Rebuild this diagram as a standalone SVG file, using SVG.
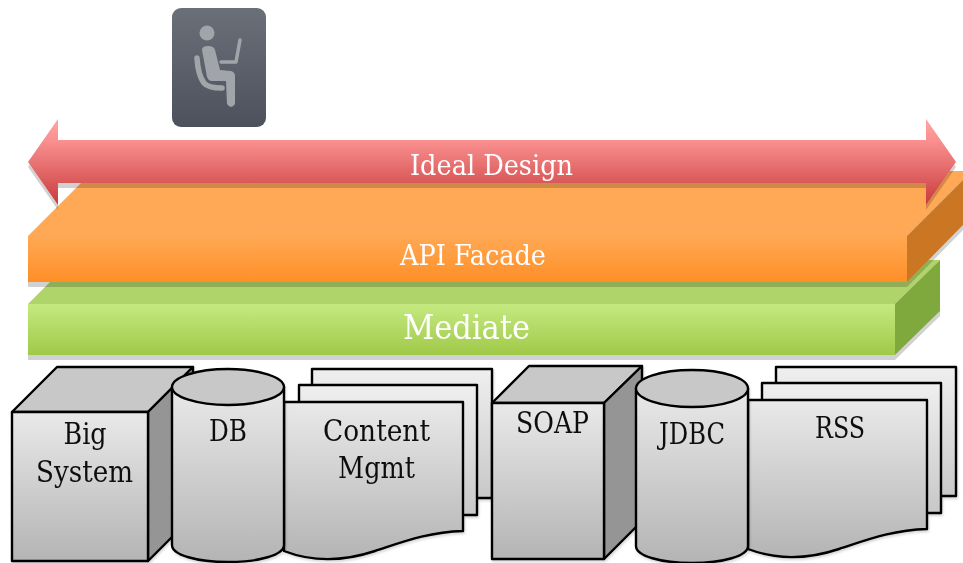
<svg xmlns="http://www.w3.org/2000/svg" width="963" height="563" viewBox="0 0 963 563">
<style>
.t{font-family:"DejaVu Serif Condensed","DejaVu Serif","Liberation Serif",serif;font-stretch:condensed;text-anchor:middle}
.w{fill:#fff}
.k{fill:#111}
.s{stroke:#000;stroke-width:2.400;stroke-linejoin:round}
.top{fill:#c8c8c8}
.side{fill:#959595}
.front{fill:url(#gFront)}
.fig{fill:none;stroke:#a1a5aa;stroke-linecap:round;stroke-linejoin:round}
.b{font-size:30px}
</style>
<defs>
<linearGradient id="gFront" x1="0" y1="0" x2="0" y2="1"><stop offset="0" stop-color="#e9e9e9"/><stop offset="1" stop-color="#b4b4b4"/></linearGradient>
<linearGradient id="gBack" x1="0" y1="0" x2="0" y2="1"><stop offset="0" stop-color="#efefef"/><stop offset="1" stop-color="#c8c8c8"/></linearGradient>
<linearGradient id="gIcon" x1="0" y1="0" x2="0" y2="1"><stop offset="0" stop-color="#6b6f78"/><stop offset="1" stop-color="#4d515c"/></linearGradient>
<linearGradient id="gArrow" x1="0" y1="0" x2="0" y2="1"><stop offset="0" stop-color="#ffa3a3"/><stop offset=".25" stop-color="#fa9090"/><stop offset=".75" stop-color="#d95757"/><stop offset="1" stop-color="#c93a3a"/></linearGradient>
<linearGradient id="gOrange" x1="0" y1="0" x2="0" y2="1"><stop offset="0" stop-color="#ffa854"/><stop offset="1" stop-color="#ff8f27"/></linearGradient>
<linearGradient id="gGreen" x1="0" y1="0" x2="0" y2="1"><stop offset="0" stop-color="#c5e980"/><stop offset="1" stop-color="#a0c949"/></linearGradient>
<filter id="sh" x="-5%" y="-10%" width="110%" height="125%"><feDropShadow dx="0" dy="5" stdDeviation=".6" flood-color="#000" flood-opacity=".18"/></filter>
<filter id="shs" x="-5%" y="-5%" width="110%" height="110%"><feDropShadow dx="1" dy="2" stdDeviation="1" flood-color="#000" flood-opacity=".15"/></filter>
</defs>
<g id="user-icon">
<rect x="172" y="8" width="94" height="119" rx="9" fill="url(#gIcon)"/>
<circle cx="207" cy="33" r="7.500" fill="#a1a5aa"/>
<path d="M202,50 Q202,46 208,46 Q214,46 215,50 L220,70 L231,71 Q235,72 235,76 L235,104 Q231,110 227,104 L226,81 L211,81 Q208,80 207,77 Z" fill="#a1a5aa"/>
<path class="fig" stroke-width="5.500" d="M197,58 Q198,75 204,83 Q208,88 222,88"/>
<path class="fig" stroke-width="3.500" d="M221,62 H236 L240,40"/>
</g>
<g id="mediate" filter="url(#sh)">
<polygon points="28,304 72,260 940,260 895,304" fill="#aed46a"/>
<polygon points="895,304 940,260 940,311 895,355" fill="#7fa83e"/>
<rect x="28" y="304" width="867" height="51" fill="url(#gGreen)"/>
<text class="t w" x="466.500" y="339" font-size="33" textLength="127" lengthAdjust="spacingAndGlyphs">Mediate</text>
</g>
<g id="api-facade" filter="url(#sh)">
<polygon points="28,236 93,171 972,171 907,236" fill="#ffa854"/>
<polygon points="907,236 972,171 972,216 907,282" fill="#cb7620"/>
<rect x="28" y="236" width="879" height="46" fill="url(#gOrange)"/>
<text class="t w" x="473" y="265" font-size="28" textLength="146" lengthAdjust="spacingAndGlyphs">API Facade</text>
</g>
<g id="ideal-design" filter="url(#sh)">
<polygon points="28,162 58,119 58,140 926,140 926,119 956,162 926,205 926,183 58,183 58,205" fill="url(#gArrow)"/>
<text class="t w" x="491.500" y="175" font-size="28" textLength="163" lengthAdjust="spacingAndGlyphs">Ideal Design</text>
</g>
<g id="big-system" filter="url(#shs)">
<polygon class="s top" points="12,412 57,367 193,367 148,412"/>
<polygon class="s side" points="148,412 193,367 193,516 148,561"/>
<rect class="s front" x="12" y="412" width="136" height="149"/>
<text class="t k b" x="85" y="444" textLength="43" lengthAdjust="spacingAndGlyphs">Big</text>
<text class="t k b" x="84.500" y="482" textLength="97" lengthAdjust="spacingAndGlyphs">System</text>
</g>
<g id="content-mgmt" filter="url(#shs)">
<rect class="s" x="312" y="369" width="180" height="129" fill="url(#gBack)"/>
<rect class="s" x="299" y="385" width="178" height="130" fill="url(#gBack)"/>
<path class="s front" d="M284,402 H463 V531 C427,532 400,543 375,551 C345,561 315,563 284,551 Z"/>
<text class="t k b" x="376.500" y="441" textLength="107" lengthAdjust="spacingAndGlyphs">Content</text>
<text class="t k b" x="376.500" y="478" textLength="77" lengthAdjust="spacingAndGlyphs">Mgmt</text>
</g>
<g id="db" filter="url(#shs)">
<path class="s front" d="M172,387 V545 C172,555 197,562 228,562 C259,562 284,555 284,545 V387 Z"/>
<ellipse class="s top" cx="228" cy="387" rx="56" ry="18"/>
<text class="t k b" x="228" y="441" textLength="38" lengthAdjust="spacingAndGlyphs">DB</text>
</g>
<g id="soap" filter="url(#shs)">
<polygon class="s top" points="492,403 529,366 642,366 604,403"/>
<polygon class="s side" points="604,403 642,366 642,521 604,559"/>
<rect class="s front" x="492" y="403" width="112" height="156"/>
<text class="t k b" x="552.500" y="433" textLength="73" lengthAdjust="spacingAndGlyphs">SOAP</text>
</g>
<g id="rss" filter="url(#shs)">
<rect class="s" x="776" y="367" width="180" height="129" fill="url(#gBack)"/>
<rect class="s" x="762" y="383" width="179" height="130" fill="url(#gBack)"/>
<path class="s front" d="M748,400 H927 V529 C891,530 864,541 839,549 C809,559 779,561 748,549 Z"/>
<text class="t k b" x="840" y="438" textLength="50" lengthAdjust="spacingAndGlyphs">RSS</text>
</g>
<g id="jdbc" filter="url(#shs)">
<path class="s front" d="M636,388.500 V546 C636,556 661,563 692,563 C723,563 748,556 748,546 V388.500 Z"/>
<ellipse class="s top" cx="692" cy="388.500" rx="56" ry="18.500"/>
<text class="t k b" x="692" y="444" textLength="66" lengthAdjust="spacingAndGlyphs">JDBC</text>
</g>
</svg>
